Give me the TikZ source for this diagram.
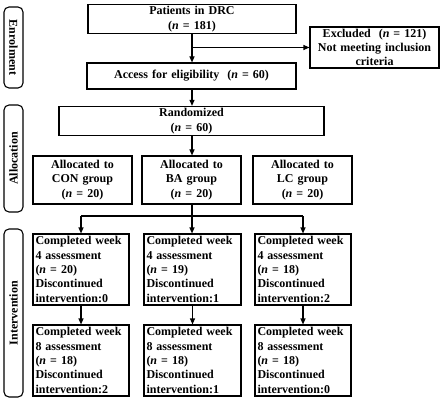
\documentclass[tikz,border=0pt]{standalone}
\usepackage{fontspec}
\setmainfont{Liberation Serif}
\usetikzlibrary{arrows.meta}
\begin{document}
\begin{tikzpicture}[x=1pt,y=-1pt,
  every node/.style={font=\fontsize{12}{14.3}\selectfont\bfseries},
  box/.style={draw,line width=1.1pt,inner sep=2pt,align=center,minimum width=#1,text width=#1-6pt},
  wbox/.style={draw,line width=1.1pt,inner sep=2pt,align=left,minimum width=#1,text width=#1-5pt,minimum height=71pt},
  brk/.style={draw,line width=1.1pt,rounded corners=5pt,minimum width=19pt},
  con/.style={line width=1.1pt},
  arr/.style={line width=1.1pt,-{Triangle[length=6pt,width=5pt]}}]
\useasboundingbox (0,0) rectangle (447,401);
% brackets
\node[brk,minimum height=81pt] (benr) at (13.5,47.5) {};
\node[rotate=-90] (tenr) at (benr.center) {Enrolment};
\node[brk,minimum height=107pt] (ball) at (13.5,158.5) {};
\node[rotate=90] (tall) at (ball.center) {Allocation};
\node[brk,minimum height=168pt] (bint) at (13.5,313) {};
\node[rotate=90] (tint) at (bint.center) {Intervention};
% boxes
\node[box=208pt,minimum height=28pt] (pat) at (192,19) {Patients in DRC\\(\textit{n} = 181)};
\node[box=129pt,minimum height=41pt] (exc) at (374.5,47.5) {Excluded\ \ (\textit{n} = 121)\\Not meeting inclusion\\criteria};
\node[box=209pt,minimum height=26pt] (acc) at (191.5,76) {Access for eligibility\ \ (\textit{n} = 60)};
\node[box=265pt,minimum height=28pt] (ran) at (191.5,121) {Randomized\\(\textit{n} = 60)};
\node[box=99pt,minimum height=48pt] (acon) at (82.5,180) {Allocated to\\CON group\\(\textit{n} = 20)};
\node[box=99pt,minimum height=48pt] (aba) at (191.5,180) {Allocated to\\BA group\\(\textit{n} = 20)};
\node[box=99pt,minimum height=48pt] (alc) at (302.5,180) {Allocated to\\LC group\\(\textit{n} = 20)};
\node[wbox=96pt] (c4) at (81,269.5) {Completed week\\4 assessment\\(\textit{n} =\ 20)\\Discontinued\\intervention:0};
\node[wbox=97pt] (b4) at (192.5,269.5) {Completed week\\4 assessment\\(\textit{n} =\ 19)\\Discontinued\\intervention:1};
\node[wbox=96pt] (l4) at (303,269.5) {Completed week\\4 assessment\\(\textit{n} =\ 18)\\Discontinued\\intervention:2};
\node[wbox=96pt] (c8) at (81,360.5) {Completed week\\8 assessment\\(\textit{n} =\ 18)\\Discontinued\\intervention:2};
\node[wbox=97pt] (b8) at (192.5,360.5) {Completed week\\8 assessment\\(\textit{n} =\ 18)\\Discontinued\\intervention:1};
\node[wbox=96pt] (l8) at (303,360.5) {Completed week\\8 assessment\\(\textit{n} =\ 18)\\Discontinued\\intervention:0};
% connectors
\coordinate (j1) at (192,47.5);
\draw[arr] (pat.south -| j1) -- (acc.north -| j1);
\draw[arr] (j1) -- (exc.west);
\draw[arr] (acc.south -| j1) -- (ran.north -| j1);
\draw[arr] (ran.south -| j1) -- (aba.north -| j1);
\coordinate (j2) at (192,216);
\coordinate (jl) at (81,216);
\coordinate (jr) at (303,216);
\draw[con] (aba.south -| j2) -- (j2);
\draw[con] (jl) -- (jr);
\draw[arr] (jl) -- (c4.north);
\draw[arr] (j2) -- (b4.north -| j2);
\draw[arr] (jr) -- (l4.north);
\draw[arr] (c4) -- (c8);
\draw[arr] (b4) -- (b8);
\draw[arr] (l4) -- (l8);
\end{tikzpicture}
\end{document}
